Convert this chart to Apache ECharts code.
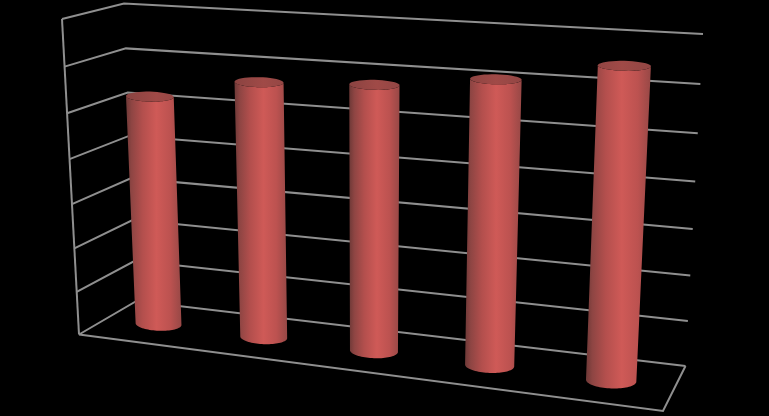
<!DOCTYPE html>
<html><head><meta charset="utf-8">
<style>html,body{margin:0;background:#000}#c{width:769px;height:416px}</style>
<script src="https://cdn.jsdelivr.net/npm/echarts@6/dist/echarts.min.js"></script>
</head><body><div id="c"></div>
<script>
const categories = ['A','B','C','D','E'];
const values = [5.23, 5.72, 5.84, 6.13, 6.57];
const ticks = [0,1,2,3,4,5,6,7];

// Corners of the 3D box on screen: [u, v, w] with u along categories, v up, w into the page
const C = {
  f00:[79,334.5], f10:[663,411], f01:[62,19], f11:[681,62],
  b00:[136.5,301], b10:[685.5,366], b01:[124,3.5], b11:[703,34]
};
const KV = 1.066, KU = 1.128;
const warp=(t,k)=>t/(t+(1-t)*k);
function project(u,v,w){
  const vv = warp(v,KV);
  const mix=(a,b,t)=>[a[0]+(b[0]-a[0])*t,a[1]+(b[1]-a[1])*t];
  const f=mix(mix(C.f00,C.f10,u),mix(C.f01,C.f11,u),vv);
  const b=mix(mix(C.b00,C.b10,u),mix(C.b01,C.b11,u),vv);
  return mix(f,b,w);
}
const W=769,H=416;
function norm(api,cat,val){const p=api.coord([cat,val]);return [p[0]/W,1-p[1]/H];}

const D=0.5, TOPRY=5;
function ellipsePts(c,rx,ry,slope,from,to){
  const out=[];
  for(let i=0;i<=40;i++){
    const t=from+(to-from)*i/40;
    const dx=rx*Math.cos(t), dy=ry*Math.sin(t);
    out.push([c[0]+dx,c[1]+dy+dx*slope]);
  }
  return out;
}
function renderGrid(params,api){
  const tick=api.value(1);
  const v=norm(api,0,tick)[1];
  const stroke={stroke:'#8f8f8f',lineWidth:2,fill:null,lineJoin:'miter'};
  const pts=[project(0,v,0),project(0,v,1),project(1,v,1)];
  const kids=[{type:'polyline',shape:{points:pts},style:stroke,silent:true}];
  if(tick===0){
    kids.push({type:'polyline',shape:{points:[project(1,0,1),project(1,0,0),project(0,0,0)]},style:stroke,silent:true});
  }
  if(tick===ticks[ticks.length-1]){
    kids.push({type:'polyline',shape:{points:[project(0,1,0),project(0,0,0)]},style:stroke,silent:true});
  }
  return {type:'group',children:kids};
}
function renderBar(params,api){
  const cat=api.value(0), val=api.value(1);
  const n=norm(api,cat,val);
  const u=warp(n[0],KU), v=n[1];
  const R=0.04+0.005*u;
  const BOTRY=6.5+1.5*u;
  const tc=project(u,v,D), bc=project(u,0,D);
  const tl=project(u-R,v,D), tr=project(u+R,v,D);
  const bl=project(u-R,0,D), br=project(u+R,0,D);
  const trx=(tr[0]-tl[0])/2, brx=(br[0]-bl[0])/2;
  const ts=(tr[1]-tl[1])/(tr[0]-tl[0]), bs=(br[1]-bl[1])/(br[0]-bl[0]);
  const top=ellipsePts(tc,trx,TOPRY,ts*0.3,0,2*Math.PI);
  const bottom=ellipsePts(bc,brx,BOTRY,bs*0.3,0,Math.PI);
  const topFront=ellipsePts(tc,trx,TOPRY,ts*0.3,0,Math.PI);
  const body=[...topFront].reverse().concat(bottom);
  const x1=Math.min(tl[0],bl[0]), x2=Math.max(tr[0],br[0]);
  const grad={type:'linear',x:x1,y:0,x2:x2,y2:0,global:true,colorStops:[
    {offset:0,color:'#6e3937'},{offset:0.1,color:'#8e4543'},{offset:0.3,color:'#b34f4d'},
    {offset:0.55,color:'#cf5a57'},{offset:0.8,color:'#bc5250'},{offset:1,color:'#974846'}]};
  const topGrad={type:'linear',x:x1,y:0,x2:x2,y2:0,global:true,colorStops:[
    {offset:0,color:'#8a4341'},{offset:0.55,color:'#a04a47'},{offset:1,color:'#924644'}]};
  return {type:'group',children:[
    {type:'polygon',shape:{points:body},style:{fill:grad},silent:true},
    {type:'polygon',shape:{points:top},style:{fill:topGrad},silent:true}
  ]};
}
const chart=echarts.init(document.getElementById('c'),null,{renderer:'canvas'});
chart.setOption({
  backgroundColor:'#000',
  animation:false,
  grid:{left:0,right:0,top:0,bottom:0},
  xAxis:{type:'category',data:categories,show:false,boundaryGap:true},
  yAxis:{type:'value',min:0,max:7,interval:1,show:false},
  series:[
    {type:'custom',renderItem:renderGrid,data:ticks.map(t=>[0,t]),encode:{x:0,y:1},clip:false,z:1},
    {type:'custom',renderItem:renderBar,data:values.map((v,i)=>[i,v]),encode:{x:0,y:1},clip:false,z:2}
  ]
});
</script></body></html>
